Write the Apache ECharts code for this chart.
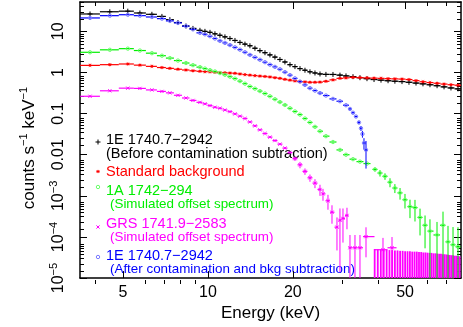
<!DOCTYPE html>
<html>
<head>
<meta charset="utf-8">
<script src="https://cdn.jsdelivr.net/npm/echarts@6/dist/echarts.min.js"></script>
<style>
html,body{margin:0;padding:0;background:#fff;}
#chart{width:463px;height:327px;}
</style>
</head>
<body>
<div id="chart"></div>
<script>
/*----------data (keV, counts s-1 keV-1)----------*/
var eGrid=[3.82,4.49,5.20,5.74,6.33,6.87,7.33,7.83,8.36,8.85,9.37,9.76,10.17,10.59,11.03,11.49,11.97,12.47,12.99,13.53,14.09,14.68,15.29,15.93,16.59,17.28,18.00,18.75,19.54,20.35,21.20,22.08,23.00,23.96,24.96,26.2,27.75,29.38,30.86,32.68,34.59,36.63,38.8,41.07,43.5,46.0,48.75,51.6,54.65,57.85,61.25,64.9,68.7,72.7,77.0];
var blackY=[26.5,30.0,31.0,28.0,26.0,23.1,19.3,16.4,13.5,11.8,10.6,10.0,9.47,8.72,8.03,7.36,6.70,6.01,5.38,4.90,4.47,3.89,3.40,3.03,2.68,2.37,2.07,1.80,1.55,1.39,1.245,1.135,1.04,0.973,0.921,0.90,0.896,0.863,0.826,0.791,0.748,0.708,0.674,0.652,0.631,0.614,0.601,0.578,0.553,0.530,0.504,0.477,0.447,0.421,0.400];
var redY=[1.49,1.55,1.61,1.51,1.41,1.32,1.26,1.20,1.15,1.10,1.07,1.05,1.04,1.01,1.0,0.984,0.97,0.955,0.921,0.89,0.863,0.84,0.818,0.80,0.778,0.748,0.72,0.681,0.652,0.626,0.601,0.590,0.578,0.578,0.584,0.611,0.662,0.72,0.74,0.76,0.75,0.74,0.73,0.72,0.708,0.70,0.692,0.674,0.634,0.595,0.569,0.547,0.523,0.504,0.49];
var greenY=[3.1,3.56,3.8,3.42,2.95,2.56,2.24,1.95,1.70,1.51,1.35,1.245,1.14,1.06,0.967,0.88,0.79,0.71,0.617,0.535,0.457,0.405,0.353,0.308,0.264,0.224,0.191,0.162,0.135,0.1128,0.0946,0.076,0.0611,0.0477,0.0373,0.0283,0.0204,0.0131,0.0100,0.0078,0.0068,0.0061];
var greenTailE=[39.1,40.73,42.43,44.2,46.0,47.97,49.95,52.03,54.2,56.47,58.83,61.25,64.87,68.12,70.96,73.93,77.0];
var greenTailY=[0.0044,0.00359,0.00299,0.00215,0.00155,0.00118,8.03e-4,5.47e-4,5.18e-4,2.99e-4,1.93e-4,1.39e-4,1.12e-4,1.93e-4,7.6e-5,6.45e-5,5.78e-5];
var greenTailErr=[0.0005,0.00064,0.00054,0.00053,0.00038,0.00037,3.1e-4,2.6e-4,2.8e-4,1.9e-4,1.4e-4,1.3e-4,1.2e-4,2.2e-4,1.1e-4,1.1e-4,1.15e-4];
var magentaY=[0.264,0.359,0.416,0.41,0.377,0.347,0.32,0.279,0.24,0.2095,0.188,0.173,0.157,0.143,0.135,0.1225,0.1117,0.0985,0.0867,0.0761,0.0627,0.0504,0.0403,0.0328,0.0268,0.0221,0.0181,0.0145,0.0113];
var magentaTailE=[20.35,21.20,22.08,23.00,23.96,24.96,25.58,26.64,27.53,28.67,29.38,30.11,31.11,31.88,33.21,34.59,36.34,41.74,44.93];
var magentaTailY=[0.00803,0.00569,0.00394,0.00275,0.00204,0.00143,0.00112,7.6e-4,4.0e-4,1.73e-4,2.54e-4,2.83e-4,3.34e-4,5.47e-5,5.47e-5,5.47e-5,1.02e-4,4.9e-5,5.47e-5];
var magentaTailErr=[0.001,0.001,0.0007,0.00055,0.0005,0.00043,0.00036,3.0e-4,1.9e-4,1.26e-4,2.4e-4,2.1e-4,1.8e-4,5.7e-5,5.7e-5,5.7e-5,7e-5,4.6e-5,4.5e-5];
var magentaUlE=[39,40,41,42,43,44,45,46,47,48,49,50,51,52,53,54,55,56,57,58,59,60,61,62,63,64,65,66,67,68,69,70,71,72,73,74,75,76,77,78];
var magentaUlTop=[5.1e-5,5.0e-5,5.0e-5,4.9e-5,4.9e-5,4.8e-5,4.8e-5,4.7e-5,4.7e-5,4.6e-5,4.6e-5,4.5e-5,4.5e-5,4.5e-5,4.4e-5,4.4e-5,4.4e-5,4.3e-5,4.3e-5,4.2e-5,4.2e-5,4.15e-5,4.1e-5,4.1e-5,4.0e-5,4.0e-5,3.95e-5,3.9e-5,3.9e-5,3.8e-5,3.8e-5,3.75e-5,3.7e-5,3.65e-5,3.6e-5,3.6e-5,3.5e-5,3.5e-5,3.45e-5,3.4e-5];
var blueY=[21.2,24.1,25.4,24.1,22.4,20.4,18.0,16.1,13.4,11.2,9.21,8.48,7.61,6.70,5.87,5.24,4.64,4.09,3.59,3.11,2.68,2.34,2.04,1.78,1.55,1.37,1.20,1.02,0.863,0.72,0.601,0.499,0.416,0.363,0.316,0.275,0.228,0.200,0.16];
var blueTailE=[31.88,32.68,33.48,34.31,34.87,35.3,35.74,36.34];
var blueTailY=[0.13,0.105,0.085,0.061,0.044,0.032,0.0193,0.0131];
var blueTailErr=[0.004,0.004,0.004,0.006,0.006,0.006,0.006,0.0085];

var xMajorTicks=[5,10,20,50];
var xMajorLabels=['5','10','20','50'];
var xMinorTicks=[4,6,7,8,9,30,40,60,70];
var yMajorTicks=[1e-5,1e-4,1e-3,0.01,0.1,1,10];
var yMajorLabels=['10{sup|\u22125}','10{sup|\u22124}','10{sup|\u22123}','0.01','0.1','1','10'];
var yMinorMult=[2,3,4,5,6,7,8,9];

var legendTitles=['1E 1740.7\u22122942','Standard background','1A 1742\u2212294','GRS 1741.9\u22122583','1E 1740.7\u22122942'];
var legendNotes=['(Before contamination subtraction)','','(Simulated offset spectrum)','(Simulated offset spectrum)','(After contamination and bkg subtraction)'];
var legendColors=['#000000','#ff0000','#00ee00','#ff00ff','#0000ff'];
var legendSyms=['plus','star','circle','cross','circle'];

/*----------ready----------*/
$chart();

/*----------function------*/
function $chart(){
	var LOG=Math.log10;
	var xMin=LOG(3.52),xMax=LOG(78.9),yMin=-5,yMax=LOG(51.8);
	var font='"Liberation Sans", Arial, sans-serif';

	function ln(x1,y1,x2,y2,s){
		return {type:'line',shape:{x1:x1,y1:y1,x2:x2,y2:y2},style:s};
	}
	function markerEls(sym,x,y,c){
		var s={stroke:c,lineWidth:1};
		if(sym==='plus') return [ln(x-2.5,y,x+2.5,y,s),ln(x,y-2.5,x,y+2.5,s)];
		if(sym==='star') return [ln(x-1.6,y,x+1.6,y,s),ln(x,y-1.6,x,y+1.6,s),ln(x-1.2,y-1.2,x+1.2,y+1.2,s),ln(x-1.2,y+1.2,x+1.2,y-1.2,s)];
		if(sym==='cross') return [ln(x-1.6,y-1.6,x+1.6,y+1.6,s),ln(x-1.6,y+1.6,x+1.6,y-1.6,s)];
		return [{type:'circle',shape:{cx:x,cy:y,r:1.7},style:{fill:'none',stroke:c,lineWidth:1}}];
	}
	//bin edges: geometric midpoints between neighbouring centres
	function rows(part){
		var e=part.e,out=[];
		for(var i=0;i<e.length;i++){
			var lo=i>0?Math.sqrt(e[i-1]*e[i]):e[0]*Math.sqrt(e[0]/e[1]);
			var hi=i<e.length-1?Math.sqrt(e[i]*e[i+1]):e[i]*Math.sqrt(e[i]/e[i-1]);
			if(part.top){
				out.push([LOG(e[i]),LOG(part.top[i]),LOG(lo),LOG(hi),-8,LOG(part.top[i]),0]);
			}else{
				var y=part.y[i],err=part.err?part.err[i]:0;
				var yl=y-err>0?LOG(y-err):-8;
				out.push([LOG(e[i]),LOG(y),LOG(lo),LOG(hi),yl,LOG(y+err),1]);
			}
		}
		return out;
	}
	function render(part){
		return function(params,api){
			var x=api.value(0),y=api.value(1);
			var p=api.coord([x,y]);
			var xl=api.coord([api.value(2),y])[0],xr=api.coord([api.value(3),y])[0];
			var yl=api.coord([x,api.value(4)])[1],yh=api.coord([x,api.value(5)])[1];
			var ch=[];
			if(api.value(6)) ch.push(ln(xl,p[1],xr,p[1],{stroke:part.color,lineWidth:1.2}));
			if(yl-yh>1) ch.push(ln(p[0],yl,p[0],yh,{stroke:part.color,lineWidth:part.top?1.8:1}));
			if(api.value(6)) ch=ch.concat(markerEls(part.sym,p[0],p[1],part.mcolor||part.color));
			return {type:'group',children:ch};
		};
	}

	var parts=[
		{e:eGrid,y:blackY,color:'#000000',sym:'plus'},
		{e:eGrid,y:redY,color:'#ff0000',sym:'star'},
		{e:eGrid.slice(0,magentaY.length),y:magentaY,color:'#ff00ff',sym:'cross'},
		{e:magentaTailE,y:magentaTailY,err:magentaTailErr,color:'#ff00ff',sym:'cross'},
		{e:magentaUlE,top:magentaUlTop,color:'#ff00ff',sym:'cross'},
		{e:eGrid.slice(0,greenY.length),y:greenY,color:'#00ee00',mcolor:'#6cff6c',sym:'circle'},
		{e:greenTailE,y:greenTailY,err:greenTailErr,color:'#00ee00',mcolor:'#6cff6c',sym:'circle'},
		{e:eGrid.slice(0,blueY.length),y:blueY,color:'#0000ff',mcolor:'#7a7aff',sym:'circle'},
		{e:blueTailE,y:blueTailY,err:blueTailErr,color:'#0000ff',mcolor:'#7a7aff',sym:'circle'}
	];
	var series=parts.map(function(p){
		return {type:'custom',xAxisIndex:0,yAxisIndex:0,clip:true,silent:true,
			renderItem:render(p),encode:{x:0,y:1},data:rows(p)};
	});

	var yMinor=[];
	yMajorTicks.forEach(function(d){
		yMinorMult.forEach(function(m){ if(d*m<=51.8) yMinor.push(LOG(d*m)); });
	});
	var xMaj=xMajorTicks.map(LOG),xMin2=xMinorTicks.map(LOG),yMaj=yMajorTicks.map(LOG);
	var black={color:'#000',width:1};

	function ax(kind,gi,pos,vals,len,line){
		return {type:'value',gridIndex:gi,position:pos,
			min:kind==='x'?xMin:yMin,max:kind==='x'?xMax:yMax,
			axisLine:{show:line,onZero:false,lineStyle:{color:'#000',width:1.5}},
			axisTick:{show:true,inside:true,length:len,customValues:vals,lineStyle:black},
			axisLabel:{show:false},splitLine:{show:false},minorTick:{show:false}};
	}
	var xAxes=[ax('x',0,'bottom',xMaj,7,true),ax('x',0,'top',xMaj,7,true),
		ax('x',1,'bottom',xMin2,4,false),ax('x',1,'top',xMin2,4,false)];
	var yAxes=[ax('y',0,'left',yMaj,7,true),ax('y',0,'right',yMaj,7,true),
		ax('y',1,'left',yMinor,4,false),ax('y',1,'right',yMinor,4,false)];

	function closest(arr,v){
		var b=0;
		for(var i=1;i<arr.length;i++) if(Math.abs(arr[i]-v)<Math.abs(arr[b]-v)) b=i;
		return b;
	}

	xAxes[0].axisLabel={show:true,customValues:xMaj,margin:6,fontSize:16,color:'#000',fontFamily:font,
		formatter:function(v){ return xMajorLabels[closest(xMaj,v)]; }};
	xAxes[0].name='Energy (keV)';
	xAxes[0].nameLocation='middle';
	xAxes[0].nameGap=21;
	xAxes[0].nameTextStyle={fontSize:17,color:'#000',fontFamily:font};

	yAxes[0].axisLabel={show:true,customValues:yMaj,rotate:90,margin:10,fontSize:16,lineHeight:22,color:'#000',fontFamily:font,
		formatter:function(v){ return yMajorLabels[closest(yMaj,v)]; },
		rich:{sup:{fontSize:11,verticalAlign:'top',color:'#000',fontFamily:font}}};
	yAxes[0].name='counts s{sup|\u22121} keV{sup|\u22121}';
	yAxes[0].nameLocation='middle';
	yAxes[0].nameGap=34;
	yAxes[0].nameTextStyle={fontSize:17,lineHeight:22,color:'#000',fontFamily:font,padding:[0,16,0,0],
		rich:{sup:{fontSize:11,verticalAlign:'top',color:'#000',fontFamily:font}}};

	//legend drawn as graphic text + markers
	var titleY=[140,171.5,191,224,255.5],noteY=[153.5,0,204.5,237.5,269],markY=[142,171.5,187,227,257],noteX=[106,0,110,110,110];
	var gEls=[];
	legendTitles.forEach(function(t,i){
		var c=legendColors[i];
		gEls.push({type:'text',x:106,y:titleY[i],style:{text:t,fill:c,fontSize:14.5,fontFamily:font,align:'left',verticalAlign:'middle'}});
		if(legendNotes[i]) gEls.push({type:'text',x:noteX[i],y:noteY[i],style:{text:legendNotes[i],fill:c,fontSize:i===0?14.5:13.4,fontFamily:font,align:'left',verticalAlign:'middle'}});
		var mc=legendSyms[i]==='circle'?(i===2?'#6cff6c':'#7a7aff'):c;
		markerEls(legendSyms[i],98,markY[i],mc).forEach(function(el){ gEls.push(el); });
	});

	var chart=echarts.init(document.getElementById('chart'),null,{renderer:'canvas'});
	chart.setOption({
		animation:false,
		backgroundColor:'#fff',
		textStyle:{fontFamily:font},
		grid:[{left:80,right:2,top:2,bottom:43},{left:80,right:2,top:2,bottom:43}],
		xAxis:xAxes,
		yAxis:yAxes,
		series:series,
		graphic:{elements:gEls}
	});
}
</script>
</body>
</html>
